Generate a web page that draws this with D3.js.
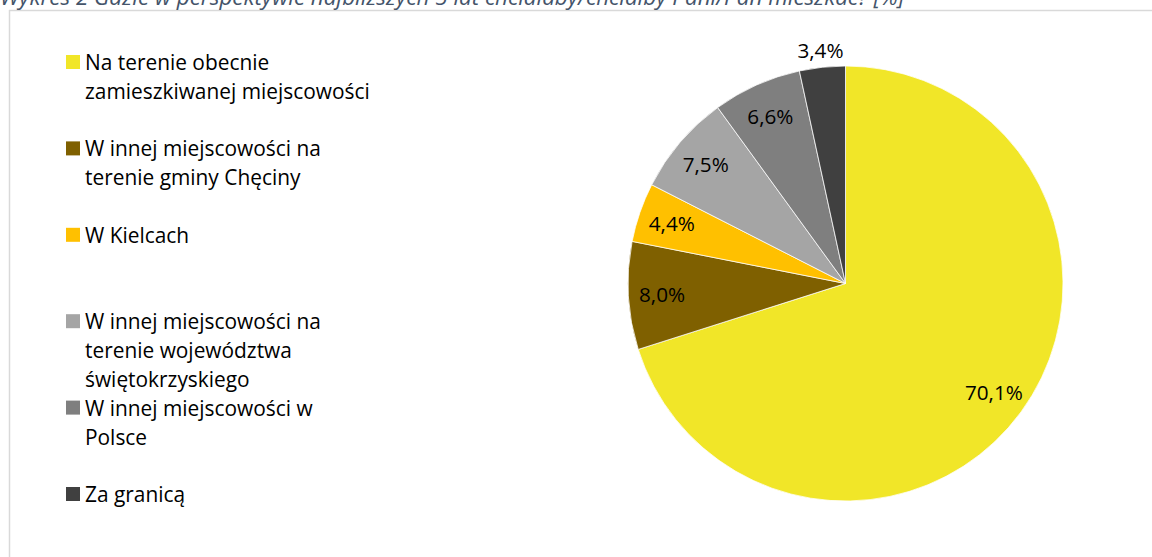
<!DOCTYPE html>
<html>
<head>
<meta charset="utf-8">
<script src="https://cdn.jsdelivr.net/npm/d3@7"></script>
<style>
  html, body { margin: 0; padding: 0; background: #fff; }
  svg { display: block; }
  text { font-family: "Open Sans", Carlito, Calibri, sans-serif; }
</style>
</head>
<body>
<svg id="chart" width="1152" height="557"></svg>
<script>
const title = "Wykres 2 Gdzie w perspektywie najbliższych 5 lat chciałaby/chciałby Pani/Pan mieszkać? [%]";
const categories = [
  "Na terenie obecnie zamieszkiwanej miejscowości",
  "W innej miejscowości na terenie gminy Chęciny",
  "W Kielcach",
  "W innej miejscowości na terenie województwa świętokrzyskiego",
  "W innej miejscowości w Polsce",
  "Za granicą"
];
const legendLines = [
  ["Na terenie obecnie", "zamieszkiwanej miejscowości"],
  ["W innej miejscowości na", "terenie gminy Chęciny"],
  ["W Kielcach"],
  ["W innej miejscowości na", "terenie województwa", "świętokrzyskiego"],
  ["W innej miejscowości w", "Polsce"],
  ["Za granicą"]
];
const values = [70.1, 8.0, 4.4, 7.5, 6.6, 3.4];
const colors = ["#F1E628", "#7F6000", "#FFC000", "#A5A5A5", "#7F7F7F", "#404040"];

const svg = d3.select("#chart");
const W = 1152, H = 557;

// font size that makes a sample string a given width
function fitSize(sample, targetW, italic) {
  const t = svg.append("text").attr("font-size", 20)
    .attr("font-style", italic ? "italic" : "normal").text(sample);
  const w = t.node().getComputedTextLength();
  t.remove();
  return 20 * targetW / w;
}
const legendFS = fitSize("zamieszkiwanej miejscowości", 285);
const labelFS = fitSize("70,1%", 58);
const titleFS = fitSize(title, 905, true);

// chart area border (top and left visible)
svg.append("line").attr("x1", 9).attr("x2", W).attr("y1", 10.5).attr("y2", 10.5)
  .attr("stroke", "#D9D9D9").attr("stroke-width", 1.5);
svg.append("line").attr("x1", 9.5).attr("x2", 9.5).attr("y1", 10).attr("y2", H)
  .attr("stroke", "#D9D9D9").attr("stroke-width", 1.5);

// title (clipped at top)
svg.append("text").attr("x", 0).attr("y", 5)
  .attr("font-size", titleFS).attr("font-style", "italic").attr("fill", "#44546A")
  .text(title);

// pie
const cx = 845.5, cy = 283.5, R = 217.5;
const color = d3.scaleOrdinal().domain(categories).range(colors);
const pie = d3.pie().sort(null).value(d => d.v);
const data = categories.map((c, i) => ({ c, v: values[i] }));
const arcs = pie(data);
const arc = d3.arc().innerRadius(0).outerRadius(R);
const g = svg.append("g").attr("transform", `translate(${cx},${cy})`);
g.selectAll("path").data(arcs).join("path")
  .attr("d", arc)
  .attr("fill", d => color(d.data.c))
  .attr("stroke", "#fff").attr("stroke-width", 0.75);

const fmt = v => v.toFixed(1).replace(".", ",") + "%";
g.selectAll("text.lbl").data(arcs).join("text")
  .attr("class", "lbl")
  .attr("transform", d => {
    const a = (d.startAngle + d.endAngle) / 2;
    const r = d.data.v < 4 ? R + 17 : R * 0.845;
    return `translate(${Math.sin(a) * r},${-Math.cos(a) * r})`;
  })
  .attr("text-anchor", "middle").attr("dominant-baseline", "central")
  .attr("font-size", labelFS).attr("fill", "#000")
  .text(d => fmt(d.data.v));

// legend
const ly0 = 62, lstep = 86.4, lh = 29, sq = 14;
const lg = svg.append("g");
legendLines.forEach((lines, i) => {
  const y = ly0 + i * lstep;
  lg.append("rect").attr("x", 66).attr("y", y - sq / 2).attr("width", sq).attr("height", sq)
    .attr("fill", color(categories[i]));
  lines.forEach((t, j) => {
    lg.append("text").attr("x", 85).attr("y", y + j * lh)
      .attr("dominant-baseline", "central")
      .attr("font-size", legendFS).attr("fill", "#000").text(t);
  });
});
</script>
</body>
</html>
